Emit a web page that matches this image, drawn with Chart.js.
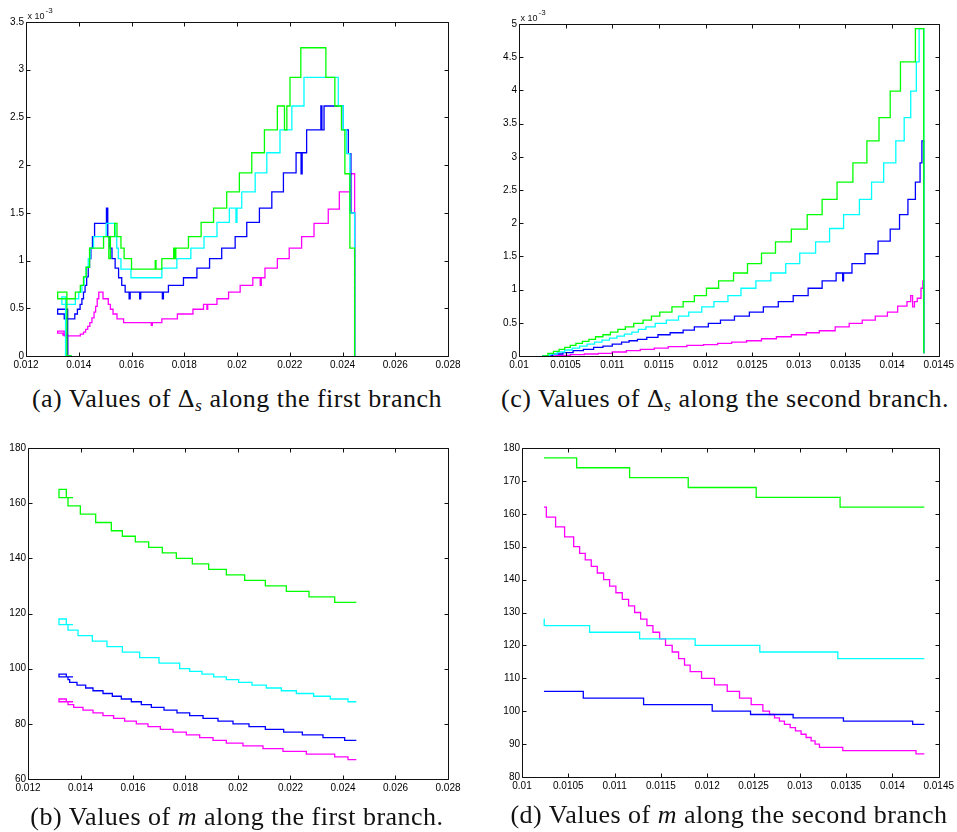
<!DOCTYPE html>
<html>
<head>
<meta charset="utf-8">
<script src="https://cdn.jsdelivr.net/npm/chart.js@4.4.1/dist/chart.umd.min.js"></script>
<style>
  html, body { margin: 0; padding: 0; background: #fff; }
  body { position: relative; width: 957px; height: 832px; overflow: hidden; }
  .panel { position: absolute; }
  .cap { position: absolute; height: 30px; line-height: 30px; text-align: center; white-space: nowrap;
         font-family: "Liberation Serif", "DejaVu Serif", serif; font-size: 26px; letter-spacing: 0.5px; color: #111; }
  .cap sub { font-size: 0.68em; vertical-align: -0.22em; line-height: 0; }
</style>
</head>
<body>
<div class="panel" style="left:0;top:0;width:478px;height:380px"><canvas id="chartA"></canvas></div>
<div class="panel" style="left:478px;top:0;width:479px;height:380px"><canvas id="chartC"></canvas></div>
<div class="panel" style="left:0;top:420px;width:478px;height:390px"><canvas id="chartB"></canvas></div>
<div class="panel" style="left:478px;top:420px;width:479px;height:390px"><canvas id="chartD"></canvas></div>

<div class="cap" style="left:0;top:384px;width:474px">(a) Values of Δ<sub><i>s</i></sub> along the first branch</div>
<div class="cap" style="left:490px;top:384px;width:470px">(c) Values of Δ<sub><i>s</i></sub> along the second branch.</div>
<div class="cap" style="left:0;top:802px;width:474px">(b) Values of <i>m</i> along the first branch.</div>
<div class="cap" style="left:494px;top:800px;width:470px">(d) Values of <i>m</i> along the second branch</div>

<script>
// tick positions
const xTicksFirst = [0.012, 0.014, 0.016, 0.018, 0.02, 0.022, 0.024, 0.026, 0.028];
const xTicksSecond = [0.01, 0.0105, 0.011, 0.0115, 0.012, 0.0125, 0.013, 0.0135, 0.014, 0.0145];
const yTicksA = [0, 0.5, 1, 1.5, 2, 2.5, 3, 3.5];
const yTicksC = [0, 0.5, 1, 1.5, 2, 2.5, 3, 3.5, 4, 4.5, 5];
const yTicksB = [60, 80, 100, 120, 140, 160, 180];
const yTicksD = [80, 90, 100, 110, 120, 130, 140, 150, 160, 170, 180];

// (a) Delta_s along the first branch, units of 1e-3, [x, level] step starts
const aGreen = [[0.01374,0],[0.01355,0.67],[0.01320,0.67],[0.01320,0.60],[0.01387,0.67],[0.01406,0.74],
  [0.01418,0.83],[0.01428,0.93],[0.01441,1.13],[0.01494,1.25],[0.01514,1.02],[0.01520,1.25],[0.01536,1.39],
  [0.01545,1.25],[0.01560,1.13],[0.01572,1.02],[0.01600,0.91],[0.01690,1.00],[0.01693,0.91],[0.01715,1.02],
  [0.01760,1.13],[0.01763,1.02],[0.01768,1.13],[0.01816,1.25],[0.01864,1.40],[0.01911,1.55],[0.01961,1.72],
  [0.02009,1.92],[0.02056,2.13],[0.02104,2.37],[0.02153,2.62],[0.02180,2.37],[0.02189,2.62],[0.02201,2.92],
  [0.02242,3.23],[0.02337,2.92],[0.02371,2.62],[0.02396,2.37],[0.02409,1.91],[0.02428,1.13],[0.02446,0]];
const aCyan = [[0.01372,0],[0.01350,0.62],[0.01336,0.62],[0.01336,0.54],[0.01387,0.60],[0.01400,0.67],
  [0.01412,0.74],[0.01420,0.83],[0.01428,0.93],[0.01436,1.02],[0.01443,1.13],[0.01456,1.25],[0.01504,1.39],
  [0.01538,1.25],[0.01544,1.13],[0.01550,1.02],[0.01560,0.91],[0.01598,0.82],[0.01715,0.92],[0.01772,1.02],
  [0.01825,1.13],[0.01875,1.25],[0.01924,1.40],[0.01971,1.55],[0.01996,1.40],[0.02000,1.55],[0.02018,1.72],
  [0.02069,1.92],[0.02113,2.13],[0.02163,2.37],[0.02208,2.62],[0.02254,2.92],[0.02384,2.62],[0.02403,2.37],
  [0.02415,2.12],[0.02428,1.50],[0.02446,0]];
const aBlue = [[0.01372,0],[0.01358,0.49],[0.01320,0.49],[0.01320,0.44],[0.01345,0.39],[0.01385,0.44],
  [0.01395,0.49],[0.01405,0.54],[0.01412,0.60],[0.01418,0.67],[0.01424,0.74],[0.01430,0.83],[0.01436,0.93],
  [0.01441,1.02],[0.01446,1.13],[0.01452,1.25],[0.01460,1.39],[0.01505,1.55],[0.01510,1.25],[0.01518,1.13],
  [0.01526,1.02],[0.01538,0.92],[0.01551,0.82],[0.01563,0.74],[0.01576,0.67],[0.01591,0.60],[0.01595,0.67],
  [0.01631,0.60],[0.01635,0.67],[0.01717,0.60],[0.01721,0.67],[0.01740,0.74],[0.01797,0.82],[0.01848,0.92],
  [0.01896,1.02],[0.01942,1.13],[0.01993,1.25],[0.02037,1.40],[0.02085,1.55],[0.02132,1.72],[0.02176,1.92],
  [0.02224,2.13],[0.02243,1.91],[0.02247,2.13],[0.02264,2.37],[0.02318,2.62],[0.02322,2.37],[0.02330,2.62],
  [0.02403,2.37],[0.02422,2.12],[0.02432,1.50],[0.02446,0]];
const aMagenta = [[0.01370,0],[0.01358,0.22],[0.01340,0.24],[0.01320,0.26],[0.01345,0.21],[0.01406,0.23],
  [0.01418,0.25],[0.01426,0.28],[0.01434,0.31],[0.01442,0.35],[0.01450,0.40],[0.01458,0.46],[0.01464,0.52],
  [0.01470,0.60],[0.01476,0.67],[0.01492,0.60],[0.01512,0.54],[0.01520,0.49],[0.01530,0.44],[0.01545,0.39],
  [0.01570,0.35],[0.01675,0.32],[0.01679,0.35],[0.01715,0.39],[0.01774,0.44],[0.01833,0.49],[0.01873,0.54],
  [0.01886,0.49],[0.01889,0.54],[0.01924,0.60],[0.01968,0.67],[0.02012,0.74],[0.02060,0.82],[0.02088,0.74],
  [0.02092,0.82],[0.02106,0.92],[0.02153,1.02],[0.02198,1.13],[0.02245,1.25],[0.02292,1.39],[0.02346,1.54],
  [0.02388,1.72],[0.02428,1.91],[0.02446,0]];

// (c) Delta_s along the second branch, units of 1e-3
const cGreen = [[0.01025,0],[0.01031,0.04],[0.01037,0.07],[0.01043,0.10],[0.01049,0.13],[0.01055,0.16],
  [0.01061,0.19],[0.01068,0.22],[0.01075,0.25],[0.01082,0.29],[0.01090,0.32],[0.01098,0.36],[0.01106,0.40],
  [0.01114,0.44],[0.01123,0.49],[0.01133,0.54],[0.01142,0.60],[0.01151,0.66],[0.01164,0.74],[0.01176,0.82],
  [0.01188,0.91],[0.01201,1.02],[0.01214,1.13],[0.01230,1.25],[0.01245,1.39],[0.01260,1.55],[0.01275,1.72],
  [0.01292,1.91],[0.01309,2.13],[0.01325,2.36],[0.01341,2.62],[0.01358,2.91],[0.01373,3.24],[0.01386,3.59],
  [0.01398,3.99],[0.01409,4.43],[0.01425,4.93],[0.01434,0.04]];
const cCyan = [[0.01025,0],[0.01033,0.03],[0.01041,0.06],[0.01049,0.09],[0.01057,0.12],[0.01065,0.15],
  [0.01073,0.18],[0.01081,0.21],[0.01089,0.24],[0.01097,0.27],[0.01105,0.30],[0.01113,0.33],[0.01121,0.36],
  [0.01128,0.40],[0.01136,0.44],[0.01146,0.49],[0.01158,0.54],[0.01171,0.60],[0.01182,0.66],[0.01196,0.74],
  [0.01209,0.82],[0.01224,0.91],[0.01238,1.02],[0.01254,1.13],[0.01270,1.25],[0.01286,1.39],[0.01301,1.55],
  [0.01318,1.72],[0.01333,1.92],[0.01348,2.13],[0.01365,2.36],[0.01378,2.62],[0.01391,2.91],[0.01404,3.24],
  [0.01413,3.59],[0.01420,3.99],[0.01426,4.43],[0.01429,4.93],[0.01434,0.04]];
const cBlue = [[0.01025,0],[0.01036,0.03],[0.01047,0.05],[0.01058,0.08],[0.01069,0.10],[0.01080,0.13],
  [0.01090,0.15],[0.01100,0.18],[0.01110,0.21],[0.01118,0.23],[0.01127,0.25],[0.01137,0.28],[0.01149,0.32],
  [0.01162,0.35],[0.01176,0.39],[0.01188,0.44],[0.01203,0.49],[0.01216,0.54],[0.01231,0.60],[0.01247,0.66],
  [0.01262,0.74],[0.01278,0.82],[0.01294,0.91],[0.01310,1.02],[0.01325,1.13],[0.01340,1.25],[0.01347,1.13],
  [0.01348,1.25],[0.01357,1.39],[0.01371,1.54],[0.01385,1.73],[0.01398,1.91],[0.01408,2.13],[0.01417,2.36],
  [0.01425,2.62],[0.01430,2.91],[0.01432,3.24],[0.01434,0.04]];
const cMagenta = [[0.01025,0],[0.01040,0.01],[0.01055,0.02],[0.01070,0.03],[0.01085,0.04],[0.01100,0.06],
  [0.01115,0.08],[0.01130,0.10],[0.01145,0.12],[0.01160,0.14],[0.01180,0.16],[0.01198,0.17],[0.01213,0.19],
  [0.01228,0.21],[0.01244,0.23],[0.01260,0.26],[0.01276,0.29],[0.01292,0.32],[0.01308,0.35],[0.01322,0.38],
  [0.01339,0.44],[0.01354,0.49],[0.01368,0.54],[0.01382,0.60],[0.01395,0.66],[0.01406,0.75],[0.01416,0.82],
  [0.01420,0.91],[0.01422,0.74],[0.01424,0.82],[0.01427,0.87],[0.01431,1.02],[0.01433,1.13],[0.01434,0.04]];

// (b) m along the first branch
const bGreen = [[0.013714,162],[0.013181,162],[0.013181,165],[0.013460,162],[0.013524,159],[0.013994,156],
  [0.014578,153],[0.015175,150],[0.015594,148],[0.016089,146],[0.016597,144],[0.017117,142],[0.017651,140],
  [0.018260,138],[0.018882,136],[0.019556,134],[0.020254,132],[0.021041,130],[0.021841,128],[0.022705,126],
  [0.023683,124],[0.024508,124]];
const bCyan = [[0.013714,116],[0.013181,116],[0.013181,118],[0.013460,116],[0.013524,114],[0.013905,112],
  [0.014451,110],[0.015009,108],[0.015594,106],[0.016254,104],[0.016990,102],[0.017778,100],[0.018159,99],
  [0.018628,98],[0.019073,97],[0.019556,96],[0.020025,95],[0.020533,94],[0.021079,93],[0.021651,92],
  [0.022222,91],[0.022882,90],[0.023517,89],[0.024190,88],[0.024508,88]];
const bBlue = [[0.013714,97],[0.013181,97],[0.013181,98],[0.013460,97],[0.013524,96],[0.013587,95],
  [0.013867,94],[0.014197,93],[0.014476,92],[0.014857,91],[0.015213,90],[0.015556,89],[0.015937,88],
  [0.016317,87],[0.016698,86],[0.017181,85],[0.017676,84],[0.018159,83],[0.018667,82],[0.019238,81],
  [0.019810,80],[0.020419,79],[0.021041,78],[0.021740,77],[0.022451,76],[0.023238,75],[0.024063,74],
  [0.024508,74]];
const bMagenta = [[0.013714,88],[0.013181,88],[0.013181,89],[0.013460,88],[0.013524,87],[0.013740,86],
  [0.014095,85],[0.014476,84],[0.014857,83],[0.015263,82],[0.015682,81],[0.016127,80],[0.016571,79],
  [0.017041,78],[0.017524,77],[0.018032,76],[0.018540,75],[0.019048,74],[0.019556,73],[0.020190,72],
  [0.020952,71],[0.021714,70],[0.022603,69],[0.023683,68],[0.024190,67],[0.024508,67]];

// (d) m along the second branch
const dGreen = [[0.010237,177],[0.010590,174],[0.011162,171],[0.011795,168],[0.012529,165],[0.013435,162],
  [0.014345,162]];
const dCyan = [[0.010237,128],[0.010240,126],[0.010730,124],[0.011270,122],[0.011870,120],[0.012568,118],
  [0.013410,116],[0.014345,116]];
const dBlue = [[0.010237,106],[0.010662,104],[0.011313,102],[0.012054,100],[0.012468,99],[0.012928,98],
  [0.013471,97],[0.014219,96],[0.014345,96]];
const dMagenta = [[0.010237,162],[0.010263,159],[0.010363,156],[0.010460,153],[0.010558,150],[0.010622,148],
  [0.010683,146],[0.010748,144],[0.010813,142],[0.010881,140],[0.010946,138],[0.011014,136],[0.011083,134],
  [0.011151,132],[0.011216,130],[0.011281,128],[0.011349,126],[0.011414,124],[0.011486,122],[0.011550,120],
  [0.011622,118],[0.011691,116],[0.011755,114],[0.011816,112],[0.011939,110],[0.012079,108],[0.012216,106],
  [0.012349,104],[0.012475,102],[0.012601,100],[0.012673,99],[0.012727,98],[0.012780,97],[0.012834,96],
  [0.012896,95],[0.012953,94],[0.013014,93],[0.013068,92],[0.013122,91],[0.013165,90],[0.013212,89],
  [0.013464,88],[0.014255,87],[0.014345,87]];

const GREEN = '#00ff00', CYAN = '#00ffff', BLUE = '#0000ff', MAGENTA = '#ff00ff';
const tickFont = { family: '"Liberation Sans", Arial, sans-serif', size: 10 };
const fmt = v => String(Number(Number(v).toFixed(6)));

// box with inward tick marks on all four sides, plus the x10^n note
const frame = {
  id: 'frame',
  afterDraw(chart, args, opts) {
    const { ctx, chartArea: a, scales: { x, y } } = chart;
    const l = Math.round(a.left) + 0.5, r = Math.round(a.right) + 0.5;
    const t = Math.round(a.top) + 0.5, b = Math.round(a.bottom) + 0.5;
    const len = 4;
    ctx.save();
    ctx.strokeStyle = '#111';
    ctx.lineWidth = 1;
    ctx.beginPath();
    ctx.rect(l, t, r - l, b - t);
    x.ticks.forEach(tk => {
      const px = Math.round(x.getPixelForValue(tk.value)) + 0.5;
      ctx.moveTo(px, b); ctx.lineTo(px, b - len);
      ctx.moveTo(px, t); ctx.lineTo(px, t + len);
    });
    y.ticks.forEach(tk => {
      const py = Math.round(y.getPixelForValue(tk.value)) + 0.5;
      ctx.moveTo(l, py); ctx.lineTo(l + len, py);
      ctx.moveTo(r, py); ctx.lineTo(r - len, py);
    });
    ctx.stroke();
    if (opts.exponent) {
      ctx.fillStyle = '#111';
      ctx.textBaseline = 'alphabetic';
      ctx.font = '9px "Liberation Sans", Arial, sans-serif';
      const base = 'x 10';
      ctx.fillText(base, l + 1, t - 4);
      const w = ctx.measureText(base).width;
      ctx.font = '8px "Liberation Sans", Arial, sans-serif';
      ctx.fillText(opts.exponent, l + 2 + w, t - 10);
    }
    ctx.restore();
  }
};

function makePanel(canvasId, series, xTicks, yTicks, box, exponent) {
  return new Chart(document.getElementById(canvasId), {
    type: 'line',
    data: {
      datasets: series.map(s => ({
        data: s.points.map(p => ({ x: p[0], y: p[1] })),
        borderColor: s.color,
        borderWidth: 1.3,
        pointRadius: 0,
        stepped: 'before',
        fill: false
      }))
    },
    options: {
      responsive: true,
      maintainAspectRatio: false,
      animation: false,
      events: [],
      layout: { padding: { top: box.top, right: box.right, bottom: box.bottom, left: 0 } },
      plugins: { legend: { display: false }, tooltip: { enabled: false }, frame: { exponent } },
      scales: {
        x: {
          type: 'linear',
          min: xTicks[0], max: xTicks[xTicks.length - 1],
          grid: { display: false, drawTicks: false },
          border: { display: false },
          afterBuildTicks: s => { s.ticks = xTicks.map(v => ({ value: v })); },
          afterFit: s => { s.height = 24; },
          ticks: { font: tickFont, color: '#000', padding: 3, maxRotation: 0, autoSkip: false, callback: fmt }
        },
        y: {
          type: 'linear',
          min: yTicks[0], max: yTicks[yTicks.length - 1],
          grid: { display: false, drawTicks: false },
          border: { display: false },
          afterBuildTicks: s => { s.ticks = yTicks.map(v => ({ value: v })); },
          afterFit: s => { s.width = box.yWidth; },
          ticks: { font: tickFont, color: '#000', padding: 2, autoSkip: false, callback: fmt }
        }
      }
    },
    plugins: [frame]
  });
}

makePanel('chartA', [
  { points: aGreen, color: GREEN }, { points: aCyan, color: CYAN },
  { points: aBlue, color: BLUE }, { points: aMagenta, color: MAGENTA }
], xTicksFirst, yTicksA, { top: 22, right: 30, bottom: 0, yWidth: 26 }, '-3');

makePanel('chartC', [
  { points: cGreen, color: GREEN }, { points: cCyan, color: CYAN },
  { points: cBlue, color: BLUE }, { points: cMagenta, color: MAGENTA }
], xTicksSecond, yTicksC, { top: 24, right: 18, bottom: 0, yWidth: 41 }, '-3');

makePanel('chartB', [
  { points: bGreen, color: GREEN }, { points: bCyan, color: CYAN },
  { points: bBlue, color: BLUE }, { points: bMagenta, color: MAGENTA }
], xTicksFirst, yTicksB, { top: 28, right: 30, bottom: 7, yWidth: 28 }, null);

makePanel('chartD', [
  { points: dGreen, color: GREEN }, { points: dCyan, color: CYAN },
  { points: dBlue, color: BLUE }, { points: dMagenta, color: MAGENTA }
], xTicksSecond, yTicksD, { top: 28, right: 18, bottom: 9, yWidth: 44 }, null);
</script>
</body>
</html>
